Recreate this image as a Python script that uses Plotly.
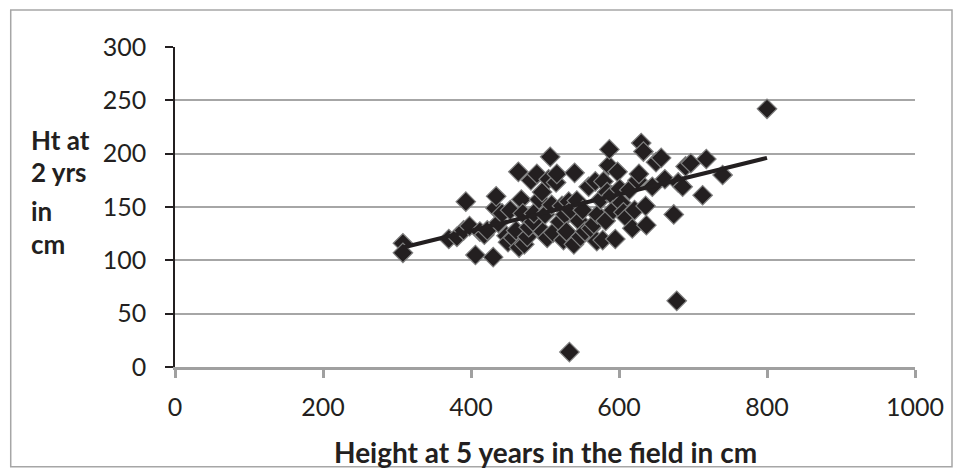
import plotly.graph_objects as go

# Height at 5 years (cm) and height at 2 years (cm)
height_5yr = [308, 308, 370, 381, 390, 393, 398, 406, 412, 418, 422, 430, 433, 434, 437,
              442, 448, 450, 453, 457, 461, 464, 468, 470, 465, 472, 476, 478, 481, 484,
              485, 489, 492, 496, 497, 500, 503, 505, 507, 509, 511, 515, 516, 520, 523,
              525, 527, 529, 532, 535, 539, 540, 543, 546, 548, 551, 554, 559, 562, 566,
              568, 570, 571, 575, 578, 579, 582, 584, 586, 587, 590, 592, 595, 598, 601,
              603, 606, 610, 614, 618, 621, 625, 627, 630, 633, 636, 637, 645, 650, 657,
              662, 674, 680, 686, 690, 697, 713, 718, 740, 800, 678, 533]
height_2yr = [116, 107, 120, 122, 128, 155, 132, 105, 127, 124, 128, 103, 149, 160, 135,
              144, 123, 117, 147, 121, 128, 183, 157, 144, 112, 115, 122, 131, 175, 136,
              144, 181, 157, 164, 127, 143, 121, 176, 197, 152, 126, 173, 181, 136, 151,
              119, 143, 127, 155, 147, 115, 182, 156, 137, 122, 147, 127, 169, 130, 134,
              174, 118, 143, 157, 119, 174, 137, 164, 189, 204, 161, 147, 120, 183, 167,
              154, 145, 140, 166, 130, 147, 175, 181, 210, 202, 151, 133, 169, 192, 196,
              176, 143, 173, 169, 188, 191, 161, 195, 180, 242, 62, 14]

# Linear trend line end points as drawn in the picture
trend_x = [308, 800]
trend_y = [112, 196]

x_ticks = [0, 200, 400, 600, 800, 1000]
y_ticks = [0, 50, 100, 150, 200, 250, 300]
x_title = "Height at 5 years in the field in cm"
y_title_lines = ["Ht at", "2 yrs", "in", "cm"]

FONT = "Lato, 'Open Sans', sans-serif"
TXT = "#231f20"

fig = go.Figure()
fig.add_trace(go.Scatter(
    x=height_5yr, y=height_2yr, mode="markers",
    marker=dict(symbol="diamond", size=15, color=TXT,
                line=dict(color="#7f7f7f", width=1.2)),
    showlegend=False, hoverinfo="x+y"))
fig.add_trace(go.Scatter(
    x=trend_x, y=trend_y, mode="lines",
    line=dict(color=TXT, width=4), showlegend=False))

fig.update_layout(
    width=948, height=460,
    margin=dict(l=167, r=31, t=39, b=101),
    paper_bgcolor="white", plot_bgcolor="white",
    font=dict(family=FONT, color=TXT),
    xaxis=dict(range=[0, 1000], tickvals=x_ticks, ticktext=[str(v) for v in x_ticks],
               showgrid=False, zeroline=False, showline=True, linecolor="#a0a0a0",
               linewidth=3, ticks="outside", ticklen=8, tickwidth=2.5, tickcolor="#a0a0a0",
               tickfont=dict(size=25, family=FONT, color=TXT),
               ticklabelstandoff=8),
    yaxis=dict(range=[0, 300], tickvals=y_ticks, ticktext=[str(v) for v in y_ticks],
               showgrid=True, gridcolor="#a6a6a6", gridwidth=1.5, zeroline=False,
               showline=True, linecolor=TXT, linewidth=1.5, ticks="outside",
               ticklen=8, tickwidth=1.5, tickcolor=TXT,
               tickfont=dict(size=25, family=FONT, color=TXT),
               ticklabelstandoff=14),
)

fig.add_annotation(text="<b>" + x_title + "</b>", xref="paper", yref="paper", x=0.5, y=-0.266,
                   xanchor="center", yanchor="middle", showarrow=False,
                   font=dict(size=28, family=FONT, color=TXT))
for line, py in zip(y_title_lines, [0.709, 0.609, 0.4875, 0.384]):
    fig.add_annotation(text="<b>" + line + "</b>", xref="paper", yref="paper",
                       x=-0.197, y=py, xanchor="left", yanchor="middle", showarrow=False,
                       font=dict(size=26, family=FONT, color=TXT))

fig.add_shape(type="rect", xref="paper", yref="paper",
              x0=-0.222, x1=1.05, y0=-0.312, y1=1.1156,
              line=dict(color="#a6a6a6", width=1.5), fillcolor="rgba(0,0,0,0)")

fig.write_html("out.html")
